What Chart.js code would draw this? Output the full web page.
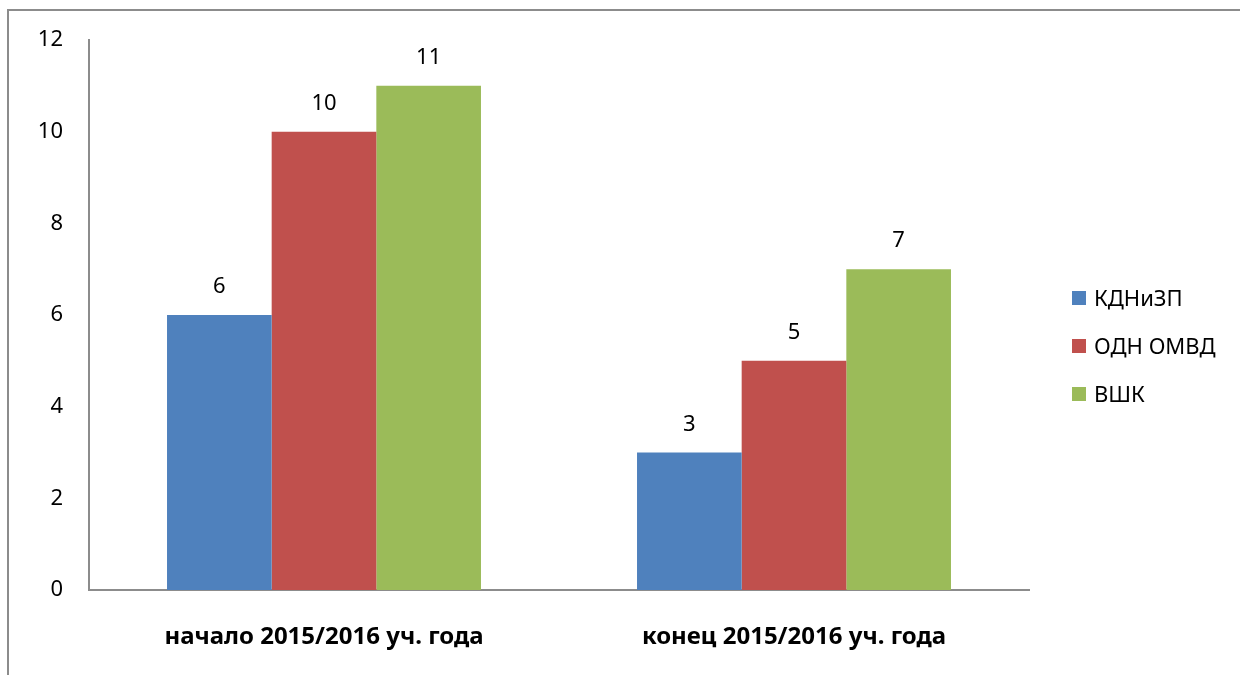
<!DOCTYPE html>
<html>
<head>
<meta charset="utf-8">
<script src="https://cdn.jsdelivr.net/npm/chart.js@4"></script>
<style>
    html, body { margin: 0; padding: 0; background: #fff; }
    #wrap { position: relative; width: 1240px; height: 675px; overflow: hidden; }
    #frame {
        position: absolute; left: 7px; top: 9px; width: 1300px; height: 700px;
        border-left: 2px solid #8c8c8c; border-top: 2px solid #8c8c8c;
    }
    #legend { position: absolute; left: 1072px; top: 281px; font-family: "Noto Sans", sans-serif; font-size: 22px; line-height: 32px; color: #000; }
    .item { height: 48px; display: flex; align-items: flex-start; }
    .box { width: 14px; height: 14px; margin-top: 10px; margin-right: 8px; }
    canvas { position: absolute; left: 0; top: 0; }
</style>
</head>
<body>
<div id="wrap">
    <div id="frame"></div>
    <canvas id="chart" width="1240" height="675"></canvas>
    <div id="legend"></div>
</div>
<script>
// Данные диаграммы
const categories = ['начало 2015/2016 уч. года', 'конец 2015/2016 уч. года'];
const seriesNames = ['КДНиЗП', 'ОДН ОМВД', 'ВШК'];
const kdnValues = [6, 3];
const odnValues = [10, 5];
const vshkValues = [11, 7];
const seriesColors = ['#4F81BD', '#C0504D', '#9BBB59'];

const fontFamily = '"Noto Sans", sans-serif';

// Подписи значений над столбцами
const valueLabels = {
    id: 'valueLabels',
    afterDatasetsDraw(chart) {
        const ctx = chart.ctx;
        ctx.save();
        ctx.font = '22px ' + fontFamily;
        ctx.fillStyle = '#000';
        ctx.textAlign = 'center';
        ctx.textBaseline = 'middle';
        chart.data.datasets.forEach((ds, i) => {
            chart.getDatasetMeta(i).data.forEach((bar, j) => {
                ctx.fillText(String(ds.data[j]), bar.x, bar.y - 28);
            });
        });
        ctx.restore();
    }
};

const allSeries = [kdnValues, odnValues, vshkValues];

new Chart(document.getElementById('chart'), {
    type: 'bar',
    data: {
        labels: categories,
        datasets: allSeries.map((vals, i) => ({
            label: seriesNames[i],
            data: vals,
            backgroundColor: seriesColors[i],
            borderWidth: 0,
            barPercentage: 1.0,
            categoryPercentage: 0.668
        }))
    },
    options: {
        responsive: false,
        animation: false,
        layout: { padding: { left: 0, right: 211, top: 40, bottom: 0 } },
        plugins: { legend: { display: false }, tooltip: { enabled: false } },
        scales: {
            x: {
                grid: { display: false, drawTicks: false },
                border: { color: '#8c8c8c', width: 2 },
                ticks: { color: '#000', padding: 33, font: { family: fontFamily, size: 24, weight: 'bold' } },
                afterFit(scale) { scale.height = 85; }
            },
            y: {
                min: 0,
                max: 12,
                grid: { display: false, drawTicks: false },
                border: { color: '#8c8c8c', width: 2 },
                ticks: { stepSize: 2, color: '#000', padding: 26, font: { family: fontFamily, size: 22 } },
                afterFit(scale) { scale.width = 89; }
            }
        }
    },
    plugins: [valueLabels]
});

// Легенда справа
const legendEl = document.getElementById('legend');
seriesNames.forEach((name, i) => {
    const item = document.createElement('div');
    item.className = 'item';
    item.innerHTML = '<span class="box" style="background:' + seriesColors[i] + '"></span><span>' + name + '</span>';
    legendEl.appendChild(item);
});
</script>
</body>
</html>
